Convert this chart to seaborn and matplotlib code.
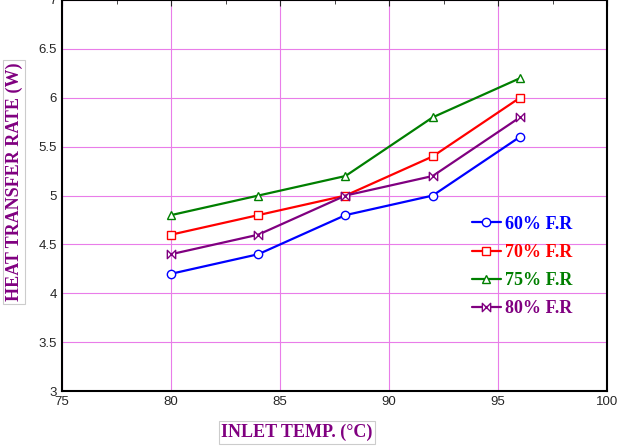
import matplotlib.pyplot as plt
import numpy as np
import pandas as pd
import seaborn as sns
from matplotlib.path import Path
from matplotlib.ticker import MultipleLocator, FormatStrFormatter

# data
inlet_temp = [80, 84, 88, 92, 96]
rate_60 = [4.2, 4.4, 4.8, 5.0, 5.6]
rate_70 = [4.6, 4.8, 5.0, 5.4, 6.0]
rate_75 = [4.8, 5.0, 5.2, 5.8, 6.2]
rate_80 = [4.4, 4.6, 5.0, 5.2, 5.8]
labels = ['60% F.R', '70% F.R', '75% F.R', '80% F.R']

df = pd.DataFrame({
    'temp': inlet_temp * 4,
    'rate': rate_60 + rate_70 + rate_75 + rate_80,
    'series': np.repeat(labels, len(inlet_temp)),
})

sns.set_style('white')
plt.rcParams['font.family'] = ['Liberation Sans', 'DejaVu Sans']

# bowtie marker for the 80% series
bowtie = Path([(-1, -1), (-1, 1), (1, -1), (1, 1), (-1, -1)],
              [Path.MOVETO, Path.LINETO, Path.LINETO, Path.LINETO, Path.CLOSEPOLY])

colors = {'60% F.R': '#0000ff', '70% F.R': '#ff0000', '75% F.R': '#007f00', '80% F.R': '#800080'}
markers = {'60% F.R': 'o', '70% F.R': 's', '75% F.R': '^', '80% F.R': bowtie}

fig = plt.figure(figsize=(6.23, 4.46), dpi=100)
ax = fig.add_axes([0.0995, 0.123, 0.875, 0.877])

for lab in labels:
    sub = df[df['series'] == lab]
    sns.lineplot(data=sub, x='temp', y='rate', ax=ax, color=colors[lab],
                 marker=markers[lab], markersize=6, markerfacecolor='white',
                 markeredgecolor=colors[lab], markeredgewidth=1,
                 linewidth=1.6, label=lab)

ax.set_xlim(75, 100)
ax.set_ylim(3, 7)
ax.xaxis.set_major_locator(MultipleLocator(5))
ax.xaxis.set_minor_locator(MultipleLocator(2.5))
ax.yaxis.set_major_locator(MultipleLocator(0.5))
ax.yaxis.set_minor_locator(MultipleLocator(0.25))
ax.yaxis.set_major_formatter(FormatStrFormatter('%g'))
ax.tick_params(which='both', direction='in', top=True, right=False, labelsize=9.5)
ax.tick_params(which='major', length=4)
ax.tick_params(which='minor', length=3)
ax.grid(True, which='major', color='#e97de9', linewidth=0.8)
for s in ax.spines.values():
    s.set_color('black')
    s.set_linewidth(1.5)

box = dict(boxstyle='square,pad=0.15', facecolor='white', edgecolor='#cccccc', linewidth=0.8)
ax.set_xlabel('INLET TEMP. (°C)', fontsize=13, fontweight='bold', color='#800080',
              family=['Liberation Serif', 'DejaVu Serif'], bbox=box, va='center')
ax.xaxis.set_label_coords(0.431, -0.105)
ax.set_ylabel('HEAT TRANSFER RATE (W)', fontsize=13, fontweight='bold', color='#800080',
              family=['Liberation Serif', 'DejaVu Serif'], bbox=box, va='center')
ax.yaxis.set_label_coords(-0.088, 0.535)

leg = ax.legend(loc='upper left', bbox_to_anchor=(0.722, 0.49), frameon=False,
                handlelength=1.6, handletextpad=0.25, labelspacing=0.62,
                labelcolor='linecolor',
                prop={'family': 'Liberation Serif', 'weight': 'bold', 'size': 13})
for h in leg.legend_handles:
    h.set_linewidth(1.6)

plt.savefig('out.png', dpi=100)
